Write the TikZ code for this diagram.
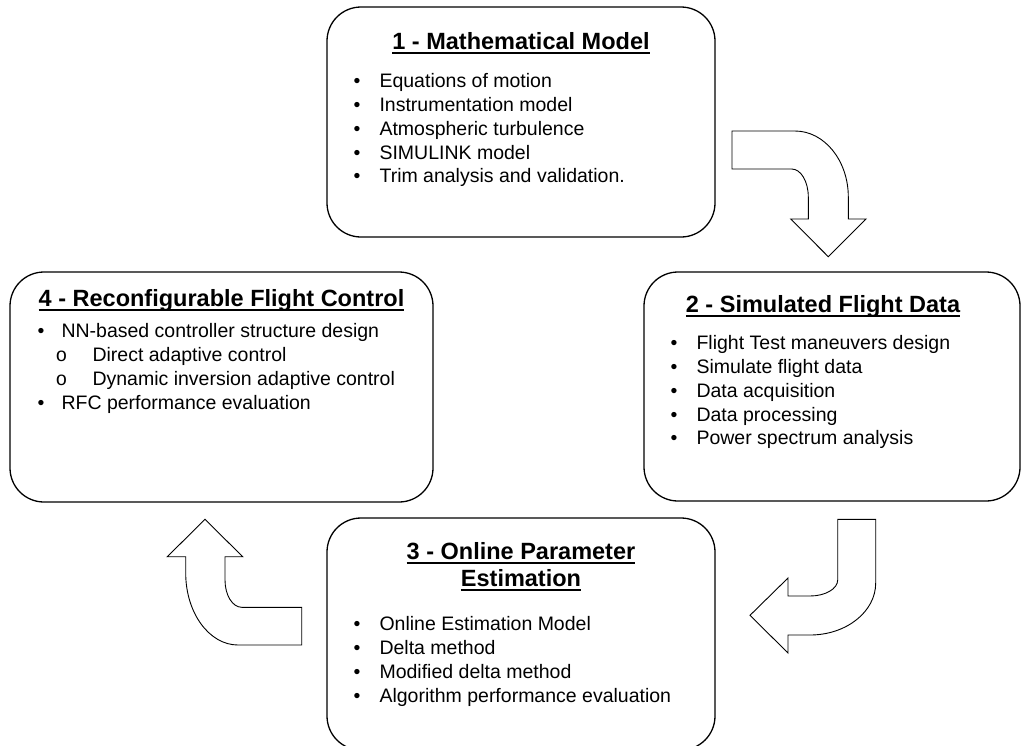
\documentclass[tikz,border=0pt]{standalone}
\usepackage{fontspec}
\setmainfont{Liberation Sans}
\setmonofont{Liberation Mono}
\usetikzlibrary{positioning}
\newcommand{\headul}[1]{\leavevmode\setbox0=\hbox{#1}\rlap{\rule[-4pt]{\wd0}{1.8pt}}\box0}
\newcommand{\stageitem}[1]{\makebox[26pt][l]{\textbullet}#1}
\newcommand{\stagesub}[1]{\hspace*{18pt}\makebox[37pt][l]{\texttt{o}}#1}

\begin{document}
\begin{tikzpicture}[x=1pt,y=-1pt,
  stage/.style={draw,rounded corners=34pt,line width=1.3pt,inner sep=0pt},
  stagetitle/.style={inner sep=0pt,align=center,font=\fontsize{23.5}{27}\selectfont\bfseries},
  stagelist/.style={inner sep=0pt,align=left,font=\fontsize{19.5}{23.8}\selectfont},
  turnarrow/.style={draw,line width=0.9pt,fill=white}]
\useasboundingbox (0,0) rectangle (1022,745);
\node[stage,minimum width=388pt,minimum height=230pt] (math) at (521,122) {};
\node[stage,minimum width=376pt,minimum height=229pt] (sim) at (832,386.5) {};
\node[stage,minimum width=388pt,minimum height=232pt] (est) at (521,634) {};
\node[stage,minimum width=423pt,minimum height=230pt] (rfc) at (221.5,387) {};
\node[stagetitle,below=26pt of math.north] (mathtitle) {\headul{1 - Mathematical Model}};
\node[stagelist,below right=67pt and 27pt of math.north west] (mathlist) {%
  \stageitem{Equations of motion}\\
  \stageitem{Instrumentation model}\\
  \stageitem{Atmospheric turbulence}\\
  \stageitem{SIMULINK model}\\
  \stageitem{Trim analysis and validation.}};
\node[stagetitle,below=24pt of sim.north,xshift=-9pt] (simtitle) {\headul{2 - Simulated Flight Data}};
\node[stagelist,below right=64pt and 27pt of sim.north west] (simlist) {%
  \stageitem{Flight Test maneuvers design}\\
  \stageitem{Simulate flight data}\\
  \stageitem{Data acquisition}\\
  \stageitem{Data processing}\\
  \stageitem{Power spectrum analysis}};
\node[stagetitle,below=25pt of est.north] (esttitle) {\headul{3 - Online Parameter}\\\headul{Estimation}};
\node[stagelist,below right=99pt and 27pt of est.north west] (estlist) {%
  \stageitem{Online Estimation Model}\\
  \stageitem{Delta method}\\
  \stageitem{Modified delta method}\\
  \stageitem{Algorithm performance evaluation}};
\node[stagetitle,below=18pt of rfc.north] (rfctitle) {\headul{4 - Reconfigurable Flight Control}};
\node[stagelist,below right=52pt and 28pt of rfc.north west] (rfclist) {%
  \makebox[24pt][l]{\textbullet}NN-based controller structure design\\
  \stagesub{Direct adaptive control}\\
  \stagesub{Dynamic inversion adaptive control}\\
  \makebox[24pt][l]{\textbullet}RFC performance evaluation};
\draw[turnarrow] (732,131) -- (795,131) .. controls (824.4,131) and (848.3,160.6) .. (848.3,197)
  -- (848.3,219) -- (866,219) -- (828.3,256.7) -- (790.7,219) -- (808.3,219) -- (808.3,197)
  .. controls (808.3,181.5) and (800.9,169) .. (791.7,169) -- (732,169) -- cycle;
\draw[turnarrow] (837.7,519.3) -- (875.7,519.3) -- (875.7,583) .. controls (875.7,611.7) and (846.3,635) .. (810,635)
  -- (788,635) -- (788,653) -- (750,615.3) -- (788,578) -- (788,596) -- (810,596)
  .. controls (825.3,596) and (837.7,588.8) .. (837.7,580) -- cycle;
\draw[turnarrow] (301.7,645) -- (238,645) .. controls (209.1,645) and (185.7,612.7) .. (185.7,573)
  -- (185.7,556.7) -- (167.3,556.7) -- (205,519.3) -- (242.7,556.7) -- (225,556.7) -- (225,580)
  .. controls (225,595.1) and (232.5,607.3) .. (241.7,607.3) -- (301.7,607.3) -- cycle;
\end{tikzpicture}
\end{document}
